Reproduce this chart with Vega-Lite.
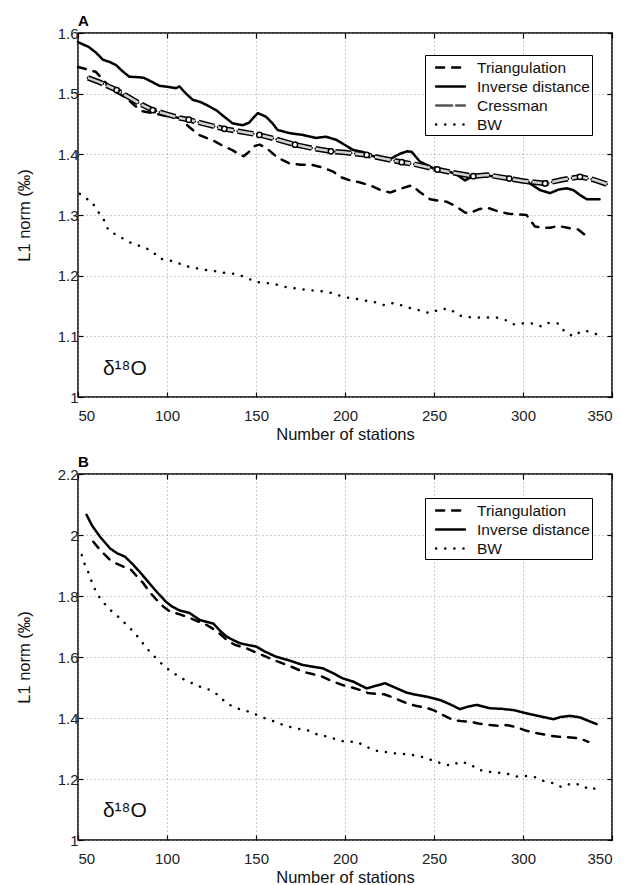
{
"$schema": "https://vega.github.io/schema/vega-lite/v6.json",
"padding": {"left": 15, "top": 13, "right": 5, "bottom": 0},
"config": {
  "font": "Liberation Sans",
  "view": {"stroke": "black", "strokeWidth": 1.5},
  "axis": {"grid": true, "gridColor": "#999", "gridDash": [1, 3], "gridWidth": 1, "domain": false, "tickColor": "black", "tickSize": -5, "tickWidth": 1.2, "labelFontSize": 15, "labelColor": "#222", "titleFontSize": 16.5, "titleFontWeight": "normal", "titleColor": "#111"},
  "axisX": {"labelPadding": 16},
  "axisY": {"labelPadding": 5},
  "legend": {"orient": "none", "strokeColor": "black", "fillColor": "white", "padding": 2, "labelFontSize": 15.5, "labelColor": "#111", "symbolType": "M-1.6,0L1.6,0", "symbolStrokeWidth": 2.5, "symbolSize": 324, "rowPadding": 0, "symbolStrokeColor": "black", "symbolOffset": 13, "labelOffset": 16, "title": null}
},
"datasets": {
  "A": [
    {"m":"Inverse distance","n":50,"v":1.585},{"m":"Inverse distance","n":56,"v":1.577},{"m":"Inverse distance","n":60,"v":1.568},{"m":"Inverse distance","n":64,"v":1.556},{"m":"Inverse distance","n":68,"v":1.552},{"m":"Inverse distance","n":71.4,"v":1.547},{"m":"Inverse distance","n":75,"v":1.537},{"m":"Inverse distance","n":78.8,"v":1.528},{"m":"Inverse distance","n":84.4,"v":1.527},{"m":"Inverse distance","n":87,"v":1.526},{"m":"Inverse distance","n":89.2,"v":1.523},{"m":"Inverse distance","n":95.7,"v":1.513},{"m":"Inverse distance","n":101,"v":1.511},{"m":"Inverse distance","n":105,"v":1.509},{"m":"Inverse distance","n":107,"v":1.512},{"m":"Inverse distance","n":110,"v":1.502},{"m":"Inverse distance","n":114.4,"v":1.49},{"m":"Inverse distance","n":119,"v":1.486},{"m":"Inverse distance","n":123.8,"v":1.479},{"m":"Inverse distance","n":128,"v":1.472},{"m":"Inverse distance","n":131.3,"v":1.464},{"m":"Inverse distance","n":136.9,"v":1.451},{"m":"Inverse distance","n":142.5,"v":1.448},{"m":"Inverse distance","n":146,"v":1.452},{"m":"Inverse distance","n":151,"v":1.468},{"m":"Inverse distance","n":155.6,"v":1.462},{"m":"Inverse distance","n":159,"v":1.452},{"m":"Inverse distance","n":162.2,"v":1.44},{"m":"Inverse distance","n":168.7,"v":1.435},{"m":"Inverse distance","n":176.2,"v":1.432},{"m":"Inverse distance","n":183.7,"v":1.427},{"m":"Inverse distance","n":189.3,"v":1.429},{"m":"Inverse distance","n":195,"v":1.424},{"m":"Inverse distance","n":200.2,"v":1.415},{"m":"Inverse distance","n":204.7,"v":1.407},{"m":"Inverse distance","n":210,"v":1.404},{"m":"Inverse distance","n":215.9,"v":1.397},{"m":"Inverse distance","n":220,"v":1.395},{"m":"Inverse distance","n":225.3,"v":1.392},{"m":"Inverse distance","n":230.9,"v":1.401},{"m":"Inverse distance","n":235,"v":1.405},{"m":"Inverse distance","n":237.5,"v":1.404},{"m":"Inverse distance","n":242.1,"v":1.388},{"m":"Inverse distance","n":249.6,"v":1.377},{"m":"Inverse distance","n":259,"v":1.371},{"m":"Inverse distance","n":263,"v":1.366},{"m":"Inverse distance","n":267.4,"v":1.357},{"m":"Inverse distance","n":272,"v":1.364},{"m":"Inverse distance","n":275.8,"v":1.366},{"m":"Inverse distance","n":285.2,"v":1.363},{"m":"Inverse distance","n":296.5,"v":1.357},{"m":"Inverse distance","n":303.9,"v":1.352},{"m":"Inverse distance","n":309.6,"v":1.341},{"m":"Inverse distance","n":315.2,"v":1.336},{"m":"Inverse distance","n":320,"v":1.342},{"m":"Inverse distance","n":324.5,"v":1.344},{"m":"Inverse distance","n":328.3,"v":1.341},{"m":"Inverse distance","n":332,"v":1.333},{"m":"Inverse distance","n":335.8,"v":1.326},{"m":"Inverse distance","n":343,"v":1.326},
    {"m":"Cressman","n":55.6,"v":1.526},{"m":"Cressman","n":62,"v":1.519},{"m":"Cressman","n":71.7,"v":1.506},{"m":"Cressman","n":78,"v":1.495},{"m":"Cressman","n":85,"v":1.483},{"m":"Cressman","n":92,"v":1.473},{"m":"Cressman","n":100,"v":1.466},{"m":"Cressman","n":107,"v":1.46},{"m":"Cressman","n":112.2,"v":1.457},{"m":"Cressman","n":120,"v":1.451},{"m":"Cressman","n":132.2,"v":1.442},{"m":"Cressman","n":140,"v":1.438},{"m":"Cressman","n":151.9,"v":1.432},{"m":"Cressman","n":160,"v":1.426},{"m":"Cressman","n":171.9,"v":1.416},{"m":"Cressman","n":180,"v":1.411},{"m":"Cressman","n":192.1,"v":1.405},{"m":"Cressman","n":200,"v":1.403},{"m":"Cressman","n":212.2,"v":1.399},{"m":"Cressman","n":220,"v":1.394},{"m":"Cressman","n":231.9,"v":1.387},{"m":"Cressman","n":240,"v":1.383},{"m":"Cressman","n":251.9,"v":1.375},{"m":"Cressman","n":260,"v":1.37},{"m":"Cressman","n":272.1,"v":1.364},{"m":"Cressman","n":280,"v":1.366},{"m":"Cressman","n":292.3,"v":1.36},{"m":"Cressman","n":300,"v":1.356},{"m":"Cressman","n":312.4,"v":1.352},{"m":"Cressman","n":322,"v":1.358},{"m":"Cressman","n":332,"v":1.363},{"m":"Cressman","n":340,"v":1.358},{"m":"Cressman","n":347,"v":1.351},
    {"m":"Triangulation","n":50,"v":1.544},{"m":"Triangulation","n":55,"v":1.54},{"m":"Triangulation","n":60,"v":1.536},{"m":"Triangulation","n":65,"v":1.52},{"m":"Triangulation","n":70,"v":1.505},{"m":"Triangulation","n":77,"v":1.493},{"m":"Triangulation","n":82,"v":1.48},{"m":"Triangulation","n":86.3,"v":1.471},{"m":"Triangulation","n":92,"v":1.468},{"m":"Triangulation","n":100,"v":1.463},{"m":"Triangulation","n":107,"v":1.46},{"m":"Triangulation","n":112.5,"v":1.445},{"m":"Triangulation","n":118,"v":1.432},{"m":"Triangulation","n":125.8,"v":1.423},{"m":"Triangulation","n":132,"v":1.413},{"m":"Triangulation","n":136.7,"v":1.407},{"m":"Triangulation","n":141,"v":1.399},{"m":"Triangulation","n":143,"v":1.397},{"m":"Triangulation","n":146,"v":1.404},{"m":"Triangulation","n":149.4,"v":1.414},{"m":"Triangulation","n":152,"v":1.416},{"m":"Triangulation","n":156,"v":1.41},{"m":"Triangulation","n":162,"v":1.395},{"m":"Triangulation","n":168.7,"v":1.385},{"m":"Triangulation","n":175,"v":1.383},{"m":"Triangulation","n":181,"v":1.383},{"m":"Triangulation","n":186.5,"v":1.379},{"m":"Triangulation","n":193,"v":1.372},{"m":"Triangulation","n":198,"v":1.362},{"m":"Triangulation","n":202.8,"v":1.357},{"m":"Triangulation","n":208,"v":1.354},{"m":"Triangulation","n":214,"v":1.349},{"m":"Triangulation","n":220,"v":1.341},{"m":"Triangulation","n":225.3,"v":1.337},{"m":"Triangulation","n":231,"v":1.343},{"m":"Triangulation","n":237.5,"v":1.349},{"m":"Triangulation","n":242,"v":1.338},{"m":"Triangulation","n":247.8,"v":1.326},{"m":"Triangulation","n":252,"v":1.324},{"m":"Triangulation","n":257,"v":1.322},{"m":"Triangulation","n":262,"v":1.315},{"m":"Triangulation","n":267.4,"v":1.304},{"m":"Triangulation","n":270,"v":1.303},{"m":"Triangulation","n":275.8,"v":1.31},{"m":"Triangulation","n":280,"v":1.312},{"m":"Triangulation","n":287,"v":1.305},{"m":"Triangulation","n":292,"v":1.302},{"m":"Triangulation","n":296.5,"v":1.301},{"m":"Triangulation","n":302,"v":1.3},{"m":"Triangulation","n":306.7,"v":1.281},{"m":"Triangulation","n":311,"v":1.279},{"m":"Triangulation","n":315.2,"v":1.279},{"m":"Triangulation","n":320,"v":1.282},{"m":"Triangulation","n":326.4,"v":1.278},{"m":"Triangulation","n":331,"v":1.276},{"m":"Triangulation","n":336.1,"v":1.264},{"m":"Triangulation","n":338,"v":1.262},
    {"m":"BW","n":51,"v":1.335},{"m":"BW","n":53,"v":1.33},{"m":"BW","n":57.7,"v":1.322},{"m":"BW","n":61.4,"v":1.305},{"m":"BW","n":65.2,"v":1.289},{"m":"BW","n":67,"v":1.275},{"m":"BW","n":71.7,"v":1.267},{"m":"BW","n":76,"v":1.26},{"m":"BW","n":81.1,"v":1.252},{"m":"BW","n":86,"v":1.248},{"m":"BW","n":91.4,"v":1.241},{"m":"BW","n":96.1,"v":1.228},{"m":"BW","n":101.7,"v":1.225},{"m":"BW","n":107,"v":1.22},{"m":"BW","n":112,"v":1.215},{"m":"BW","n":117,"v":1.212},{"m":"BW","n":122.3,"v":1.209},{"m":"BW","n":128,"v":1.207},{"m":"BW","n":133.5,"v":1.204},{"m":"BW","n":138,"v":1.203},{"m":"BW","n":143.8,"v":1.198},{"m":"BW","n":149.4,"v":1.19},{"m":"BW","n":154,"v":1.188},{"m":"BW","n":159.7,"v":1.187},{"m":"BW","n":164,"v":1.183},{"m":"BW","n":169.1,"v":1.18},{"m":"BW","n":175,"v":1.178},{"m":"BW","n":180.3,"v":1.176},{"m":"BW","n":185,"v":1.175},{"m":"BW","n":190.6,"v":1.173},{"m":"BW","n":196,"v":1.168},{"m":"BW","n":201,"v":1.164},{"m":"BW","n":206,"v":1.162},{"m":"BW","n":211.2,"v":1.159},{"m":"BW","n":216,"v":1.157},{"m":"BW","n":222.5,"v":1.151},{"m":"BW","n":227.1,"v":1.155},{"m":"BW","n":232,"v":1.151},{"m":"BW","n":237.5,"v":1.146},{"m":"BW","n":243,"v":1.142},{"m":"BW","n":247.8,"v":1.138},{"m":"BW","n":253.4,"v":1.145},{"m":"BW","n":259,"v":1.145},{"m":"BW","n":263.7,"v":1.135},{"m":"BW","n":268,"v":1.132},{"m":"BW","n":273,"v":1.131},{"m":"BW","n":279,"v":1.131},{"m":"BW","n":285.2,"v":1.131},{"m":"BW","n":290,"v":1.127},{"m":"BW","n":295.5,"v":1.119},{"m":"BW","n":301.1,"v":1.122},{"m":"BW","n":306,"v":1.121},{"m":"BW","n":310.5,"v":1.116},{"m":"BW","n":314.2,"v":1.122},{"m":"BW","n":319.8,"v":1.121},{"m":"BW","n":323.6,"v":1.107},{"m":"BW","n":328.3,"v":1.1},{"m":"BW","n":333,"v":1.109},{"m":"BW","n":337.6,"v":1.108},{"m":"BW","n":343.3,"v":1.101}
  ],
  "Amarkers": [
    {"n":71.7,"v":1.506},{"n":92,"v":1.473},{"n":112.2,"v":1.457},{"n":132.2,"v":1.442},{"n":151.9,"v":1.432},{"n":171.9,"v":1.416},{"n":192.1,"v":1.405},{"n":212.2,"v":1.399},{"n":231.9,"v":1.387},{"n":251.9,"v":1.375},{"n":272.1,"v":1.364},{"n":292.3,"v":1.36},{"n":312.4,"v":1.352},{"n":332,"v":1.363}
  ],
  "B": [
    {"m":"BW","n":52.1,"v":1.934},{"m":"BW","n":53.9,"v":1.902},{"m":"BW","n":56,"v":1.875},{"m":"BW","n":57.7,"v":1.847},{"m":"BW","n":60.5,"v":1.809},{"m":"BW","n":64.2,"v":1.779},{"m":"BW","n":68,"v":1.755},{"m":"BW","n":72.6,"v":1.732},{"m":"BW","n":77.4,"v":1.705},{"m":"BW","n":82,"v":1.678},{"m":"BW","n":85.8,"v":1.65},{"m":"BW","n":89.5,"v":1.623},{"m":"BW","n":93.8,"v":1.596},{"m":"BW","n":98.7,"v":1.568},{"m":"BW","n":103,"v":1.55},{"m":"BW","n":108.3,"v":1.53},{"m":"BW","n":113,"v":1.517},{"m":"BW","n":118.5,"v":1.503},{"m":"BW","n":124.2,"v":1.492},{"m":"BW","n":128.8,"v":1.475},{"m":"BW","n":133.5,"v":1.448},{"m":"BW","n":139.1,"v":1.432},{"m":"BW","n":144.8,"v":1.423},{"m":"BW","n":149.4,"v":1.413},{"m":"BW","n":155.1,"v":1.399},{"m":"BW","n":159.7,"v":1.39},{"m":"BW","n":165.3,"v":1.377},{"m":"BW","n":170.9,"v":1.368},{"m":"BW","n":176,"v":1.362},{"m":"BW","n":180.3,"v":1.358},{"m":"BW","n":185,"v":1.344},{"m":"BW","n":190.6,"v":1.339},{"m":"BW","n":195,"v":1.33},{"m":"BW","n":200,"v":1.322},{"m":"BW","n":206.6,"v":1.322},{"m":"BW","n":211.2,"v":1.308},{"m":"BW","n":216.9,"v":1.293},{"m":"BW","n":222,"v":1.289},{"m":"BW","n":228.1,"v":1.284},{"m":"BW","n":233,"v":1.282},{"m":"BW","n":237.5,"v":1.279},{"m":"BW","n":243.1,"v":1.273},{"m":"BW","n":248.7,"v":1.262},{"m":"BW","n":254.3,"v":1.251},{"m":"BW","n":259.9,"v":1.243},{"m":"BW","n":264.6,"v":1.257},{"m":"BW","n":270.2,"v":1.249},{"m":"BW","n":274.9,"v":1.23},{"m":"BW","n":280.5,"v":1.224},{"m":"BW","n":285.2,"v":1.221},{"m":"BW","n":290.8,"v":1.218},{"m":"BW","n":296.5,"v":1.208},{"m":"BW","n":301.1,"v":1.21},{"m":"BW","n":306.7,"v":1.206},{"m":"BW","n":311.4,"v":1.194},{"m":"BW","n":317.1,"v":1.186},{"m":"BW","n":321.8,"v":1.173},{"m":"BW","n":327.4,"v":1.186},{"m":"BW","n":333,"v":1.18},{"m":"BW","n":337.6,"v":1.164},{"m":"BW","n":343.3,"v":1.175},
    {"m":"Inverse distance","n":54.8,"v":2.066},{"m":"Inverse distance","n":58,"v":2.03},{"m":"Inverse distance","n":62.4,"v":1.994},{"m":"Inverse distance","n":68,"v":1.956},{"m":"Inverse distance","n":72,"v":1.94},{"m":"Inverse distance","n":76.4,"v":1.929},{"m":"Inverse distance","n":81.1,"v":1.902},{"m":"Inverse distance","n":85,"v":1.877},{"m":"Inverse distance","n":88.6,"v":1.852},{"m":"Inverse distance","n":94.2,"v":1.814},{"m":"Inverse distance","n":99.6,"v":1.78},{"m":"Inverse distance","n":103,"v":1.765},{"m":"Inverse distance","n":107.3,"v":1.752},{"m":"Inverse distance","n":112.5,"v":1.745},{"m":"Inverse distance","n":118.5,"v":1.721},{"m":"Inverse distance","n":126,"v":1.71},{"m":"Inverse distance","n":130,"v":1.685},{"m":"Inverse distance","n":133.5,"v":1.667},{"m":"Inverse distance","n":137,"v":1.656},{"m":"Inverse distance","n":141,"v":1.645},{"m":"Inverse distance","n":145,"v":1.64},{"m":"Inverse distance","n":150.2,"v":1.634},{"m":"Inverse distance","n":155,"v":1.618},{"m":"Inverse distance","n":161.2,"v":1.601},{"m":"Inverse distance","n":168,"v":1.59},{"m":"Inverse distance","n":176.2,"v":1.574},{"m":"Inverse distance","n":182,"v":1.568},{"m":"Inverse distance","n":187.5,"v":1.563},{"m":"Inverse distance","n":193,"v":1.548},{"m":"Inverse distance","n":198.7,"v":1.53},{"m":"Inverse distance","n":204.7,"v":1.519},{"m":"Inverse distance","n":212.2,"v":1.497},{"m":"Inverse distance","n":217,"v":1.505},{"m":"Inverse distance","n":222.5,"v":1.514},{"m":"Inverse distance","n":228,"v":1.5},{"m":"Inverse distance","n":234.7,"v":1.483},{"m":"Inverse distance","n":240,"v":1.476},{"m":"Inverse distance","n":245.9,"v":1.47},{"m":"Inverse distance","n":253.4,"v":1.459},{"m":"Inverse distance","n":259,"v":1.445},{"m":"Inverse distance","n":264.6,"v":1.429},{"m":"Inverse distance","n":269,"v":1.437},{"m":"Inverse distance","n":274,"v":1.443},{"m":"Inverse distance","n":281.5,"v":1.432},{"m":"Inverse distance","n":288,"v":1.43},{"m":"Inverse distance","n":294.6,"v":1.426},{"m":"Inverse distance","n":302.1,"v":1.415},{"m":"Inverse distance","n":310,"v":1.405},{"m":"Inverse distance","n":317.1,"v":1.396},{"m":"Inverse distance","n":321,"v":1.403},{"m":"Inverse distance","n":326.4,"v":1.407},{"m":"Inverse distance","n":332,"v":1.402},{"m":"Inverse distance","n":337,"v":1.39},{"m":"Inverse distance","n":341.4,"v":1.38},
    {"m":"Triangulation","n":58.6,"v":1.978},{"m":"Triangulation","n":62.4,"v":1.951},{"m":"Triangulation","n":68,"v":1.918},{"m":"Triangulation","n":72,"v":1.905},{"m":"Triangulation","n":75.5,"v":1.896},{"m":"Triangulation","n":80,"v":1.885},{"m":"Triangulation","n":83,"v":1.865},{"m":"Triangulation","n":86.7,"v":1.842},{"m":"Triangulation","n":90,"v":1.815},{"m":"Triangulation","n":94.2,"v":1.787},{"m":"Triangulation","n":98,"v":1.765},{"m":"Triangulation","n":101.7,"v":1.749},{"m":"Triangulation","n":106,"v":1.742},{"m":"Triangulation","n":111.1,"v":1.732},{"m":"Triangulation","n":116,"v":1.72},{"m":"Triangulation","n":122.3,"v":1.705},{"m":"Triangulation","n":128,"v":1.685},{"m":"Triangulation","n":133.5,"v":1.656},{"m":"Triangulation","n":138,"v":1.64},{"m":"Triangulation","n":144.8,"v":1.628},{"m":"Triangulation","n":150,"v":1.615},{"m":"Triangulation","n":155.6,"v":1.601},{"m":"Triangulation","n":160,"v":1.59},{"m":"Triangulation","n":165,"v":1.579},{"m":"Triangulation","n":170,"v":1.568},{"m":"Triangulation","n":176.2,"v":1.552},{"m":"Triangulation","n":181,"v":1.545},{"m":"Triangulation","n":187.5,"v":1.535},{"m":"Triangulation","n":193,"v":1.52},{"m":"Triangulation","n":198.7,"v":1.508},{"m":"Triangulation","n":204,"v":1.5},{"m":"Triangulation","n":208.4,"v":1.492},{"m":"Triangulation","n":213,"v":1.482},{"m":"Triangulation","n":217.8,"v":1.479},{"m":"Triangulation","n":222,"v":1.478},{"m":"Triangulation","n":228,"v":1.465},{"m":"Triangulation","n":234,"v":1.45},{"m":"Triangulation","n":240.3,"v":1.439},{"m":"Triangulation","n":245,"v":1.435},{"m":"Triangulation","n":249.6,"v":1.426},{"m":"Triangulation","n":255,"v":1.41},{"m":"Triangulation","n":260.9,"v":1.393},{"m":"Triangulation","n":265,"v":1.39},{"m":"Triangulation","n":270.2,"v":1.388},{"m":"Triangulation","n":275,"v":1.382},{"m":"Triangulation","n":281.5,"v":1.377},{"m":"Triangulation","n":286,"v":1.374},{"m":"Triangulation","n":290.8,"v":1.377},{"m":"Triangulation","n":296,"v":1.37},{"m":"Triangulation","n":302.1,"v":1.358},{"m":"Triangulation","n":308,"v":1.35},{"m":"Triangulation","n":313.3,"v":1.344},{"m":"Triangulation","n":319,"v":1.339},{"m":"Triangulation","n":324.5,"v":1.337},{"m":"Triangulation","n":332,"v":1.333},{"m":"Triangulation","n":336.7,"v":1.322}
  ],
  "labA": [{"n": 64, "v": 1.036, "t": "δ¹⁸O"}],
  "labB": [{"n": 64, "v": 1.075, "t": "δ¹⁸O"}]
},
"resolve": {"scale": {"strokeDash": "independent", "strokeWidth": "independent"}, "legend": {"strokeDash": "independent"}},
"spacing": 10,
"vconcat": [
  {
    "width": 534, "height": 364,
    "title": {"text": "A", "anchor": "start", "frame": "group", "fontWeight": "bold", "fontSize": 15, "offset": -3},
    "resolve": {"axis": {"x": "independent", "y": "independent"}},
    "layer": [
      {
        "data": {"name": "A"},
        "mark": {"type": "line", "color": "black", "strokeCap": "round", "strokeJoin": "round"},
        "encoding": {
          "x": {"field": "n", "type": "quantitative", "scale": {"domain": [50, 350], "nice": false, "zero": false}, "axis": {"title": "Number of stations", "values": [50,100,150,200,250,300,350], "titlePadding": 3}},
          "y": {"field": "v", "type": "quantitative", "scale": {"domain": [1, 1.6], "nice": false, "zero": false}, "axis": {"title": "L1 norm (‰)", "values": [1,1.1,1.2,1.3,1.4,1.5,1.6], "format": "~g", "titlePadding": 25}},
          "strokeDash": {"field": "m", "type": "nominal", "scale": {"domain": ["Triangulation", "Inverse distance", "Cressman", "BW"], "range": [[8, 8], [1, 0], [16, 4], [0.1, 9]]}, "legend": {"legendX": 347, "legendY": 22, "encode": {"symbols": {"update": {"strokeCap": {"value": "round"}, "strokeWidth": [{"test": "datum.value === 'Cressman'", "value": 5}, {"test": "datum.value === 'BW'", "value": 3.5}, {"value": 2.5}], "stroke": [{"test": "datum.value === 'Cressman'", "value": "#555"}, {"value": "black"}]}}}}},
          "strokeWidth": {"field": "m", "type": "nominal", "scale": {"domain": ["Triangulation", "Inverse distance", "Cressman", "BW"], "range": [2.5, 2.5, 2.5, 3.5]}, "legend": null}
        }
      },
      {
        "data": {"name": "A"},
        "transform": [{"filter": "datum.m === 'Cressman'"}],
        "mark": {"type": "line", "color": "black", "strokeWidth": 5.5, "strokeDash": [16, 4]},
        "encoding": {"x": {"field": "n", "type": "quantitative", "axis": null}, "y": {"field": "v", "type": "quantitative", "axis": null}}
      },
      {
        "data": {"name": "A"},
        "transform": [{"filter": "datum.m === 'Cressman'"}],
        "mark": {"type": "line", "color": "#d2d2d2", "strokeWidth": 2.6, "strokeDash": [16, 4]},
        "encoding": {"x": {"field": "n", "type": "quantitative", "axis": null}, "y": {"field": "v", "type": "quantitative", "axis": null}}
      },
      {
        "data": {"name": "Amarkers"},
        "mark": {"type": "point", "filled": true, "fill": "white", "stroke": "black", "strokeWidth": 1.5, "size": 28, "opacity": 1},
        "encoding": {"x": {"field": "n", "type": "quantitative", "axis": null}, "y": {"field": "v", "type": "quantitative", "axis": null}}
      },
      {
        "data": {"name": "labA"},
        "mark": {"type": "text", "align": "left", "baseline": "alphabetic", "fontSize": 21, "color": "#111"},
        "encoding": {
          "x": {"field": "n", "type": "quantitative", "axis": {"orient": "top", "labels": false, "grid": false, "title": null, "minExtent": 0, "maxExtent": 0, "values": [50,100,150,200,250,300,350]}},
          "y": {"field": "v", "type": "quantitative", "axis": {"orient": "right", "labels": false, "grid": false, "title": null, "minExtent": 0, "maxExtent": 0, "values": [1,1.1,1.2,1.3,1.4,1.5,1.6]}},
          "text": {"field": "t"}
        }
      }
    ]
  },
  {
    "width": 534, "height": 366,
    "title": {"text": "B", "anchor": "start", "frame": "group", "fontWeight": "bold", "fontSize": 15, "offset": -3},
    "resolve": {"axis": {"x": "independent", "y": "independent"}},
    "layer": [
      {
        "data": {"name": "B"},
        "mark": {"type": "line", "color": "black", "strokeCap": "round", "strokeJoin": "round"},
        "encoding": {
          "x": {"field": "n", "type": "quantitative", "scale": {"domain": [50, 350], "nice": false, "zero": false}, "axis": {"title": "Number of stations", "values": [50,100,150,200,250,300,350], "titlePadding": 3}},
          "y": {"field": "v", "type": "quantitative", "scale": {"domain": [1, 2.2], "nice": false, "zero": false}, "axis": {"title": "L1 norm (‰)", "values": [1,1.2,1.4,1.6,1.8,2,2.2], "format": "~g", "titlePadding": 25}},
          "strokeDash": {"field": "m", "type": "nominal", "scale": {"domain": ["Triangulation", "Inverse distance", "BW"], "range": [[8, 8], [1, 0], [0.1, 9]]}, "legend": {"legendX": 347, "legendY": 24, "encode": {"symbols": {"update": {"strokeCap": {"value": "round"}, "strokeWidth": [{"test": "datum.value === 'BW'", "value": 3.5}, {"value": 2.5}]}}}}},
          "strokeWidth": {"field": "m", "type": "nominal", "scale": {"domain": ["Triangulation", "Inverse distance", "BW"], "range": [2.5, 2.5, 3.5]}, "legend": null}
        }
      },
      {
        "data": {"name": "labB"},
        "mark": {"type": "text", "align": "left", "baseline": "alphabetic", "fontSize": 21, "color": "#111"},
        "encoding": {
          "x": {"field": "n", "type": "quantitative", "axis": {"orient": "top", "labels": false, "grid": false, "title": null, "minExtent": 0, "maxExtent": 0, "values": [50,100,150,200,250,300,350]}},
          "y": {"field": "v", "type": "quantitative", "axis": {"orient": "right", "labels": false, "grid": false, "title": null, "minExtent": 0, "maxExtent": 0, "values": [1,1.2,1.4,1.6,1.8,2,2.2]}},
          "text": {"field": "t"}
        }
      }
    ]
  }
]
}
